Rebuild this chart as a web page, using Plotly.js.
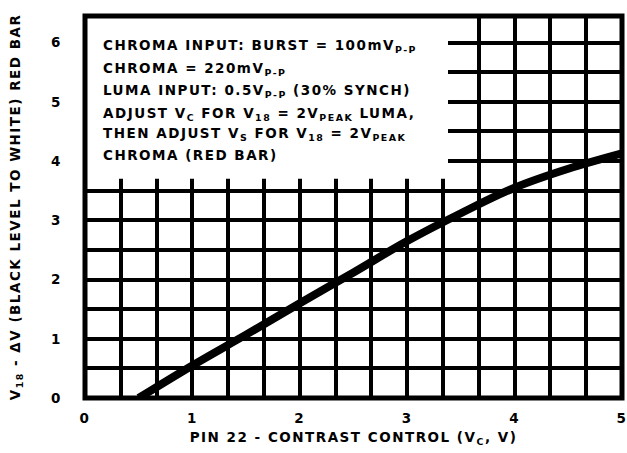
<!DOCTYPE html>
<html>
<head>
<meta charset="utf-8">
<script src="https://cdn.plot.ly/plotly-3.0.1.min.js"></script>
<style>
html,body{margin:0;padding:0;background:#fff;}
#chart{width:627px;height:453px;}
/* the original lettering is widely tracked */
#chart svg text{letter-spacing:1.5px;}
</style>
</head>
<body>
<div id="chart"></div>
<script>
// contrast control voltage (V) and red bar amplitude (V)
const contrastV = [0.5, 1, 1.5, 2, 2.5, 3, 3.5, 4, 4.5, 5];
const redBarV = [0, 0.55, 1.07, 1.6, 2.12, 2.65, 3.12, 3.55, 3.87, 4.13];

const xTickVals = [0, 1, 2, 3, 4, 5];
const yTickVals = [0, 1, 2, 3, 4, 5, 6];

const noteLines = [
"CHROMA INPUT: BURST = 100mV<sub>P-P</sub>",
"CHROMA = 220mV<sub>P-P</sub>",
"LUMA INPUT: 0.5V<sub>P-P</sub> (30% SYNCH)",
"ADJUST V<sub>C</sub> FOR V<sub>18</sub> = 2V<sub>PEAK</sub> LUMA,",
"THEN ADJUST V<sub>S</sub> FOR V<sub>18</sub> = 2V<sub>PEAK</sub>",
"CHROMA (RED BAR)"
];
const noteY = [5.94, 5.56, 5.18, 4.80, 4.45, 4.11];

const font = {family:"DejaVu Sans", size:13.5, color:"#000", weight:700};

let annotations = noteLines.map((t,i)=>({
    xref:"x", yref:"y",
    x:0.15, y:noteY[i],
    xanchor:"left", yanchor:"middle",
    align:"left",
    text:t, showarrow:false,
    font:font
}));

let trace = {
    x: contrastV,
    y: redBarV,
    mode: "lines",
    line: {color:"#000", width:8, shape:"spline"},
    hoverinfo: "none"
};

let layout = {
    width:627, height:453,
    margin:{l:85, r:5, t:16, b:55},
    paper_bgcolor:"#fff",
    plot_bgcolor:"#fff",
    showlegend:false,
    font:font,
    xaxis:{
        range:[0,5],
        tickvals:xTickVals,
        showgrid:true, gridcolor:"#000", gridwidth:4,
        minor:{dtick:1/3, showgrid:true, gridcolor:"#000", gridwidth:4},
        zeroline:false, ticks:"", ticklen:0,
        ticklabelstandoff:10,
        ticklabeloverflow:"allow",
        tickfont:font,
        title:{text:"PIN 22 - CONTRAST CONTROL (V<sub>C</sub>, V)", font:font, standoff:8}
    },
    yaxis:{
        range:[0,6.45],
        tickvals:yTickVals,
        showgrid:true, gridcolor:"#000", gridwidth:4,
        minor:{dtick:0.5, showgrid:true, gridcolor:"#000", gridwidth:4},
        zeroline:false, ticks:"", ticklen:0,
        ticklabelstandoff:22,
        tickfont:font,
        title:{text:"V<sub>18</sub> - ΔV (BLACK LEVEL TO WHITE) RED BAR", font:font, standoff:28}
    },
    shapes:[
        {type:"rect", xref:"x", yref:"y", x0:0, x1:3.38, y0:3.7, y1:6.45,
         fillcolor:"#fff", line:{width:0}, layer:"above"},
        {type:"rect", xref:"paper", yref:"paper", x0:0, x1:1, y0:0, y1:1,
         line:{color:"#000", width:5}, layer:"above"}
    ],
    annotations:annotations
};

Plotly.newPlot("chart", [trace], layout, {staticPlot:true});
</script>
</body>
</html>
